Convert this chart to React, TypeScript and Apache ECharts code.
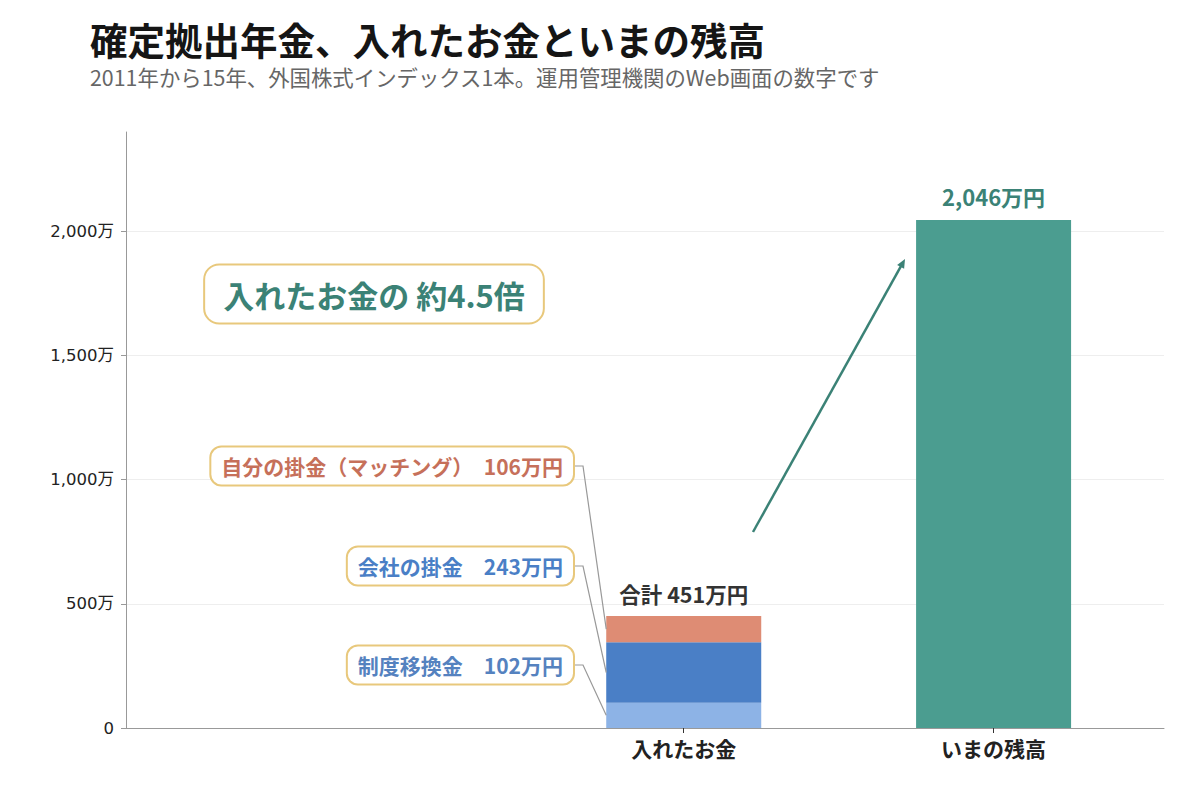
import { useEffect, useRef } from 'react';
import * as echarts from 'echarts';

const categories = ['入れたお金', 'いまの残高'];
const categoryPos = [1, 2];
const transferValues = [102, 0]; // 制度移換金
const companyValues = [243, 0]; // 会社の掛金
const matchingValues = [106, 0]; // 自分の掛金（マッチング）
const balanceValues = [0, 2046]; // いまの残高
const yTicks = [0, 500, 1000, 1500, 2000];

const FONT = '"Noto Sans CJK JP", "Noto Sans", sans-serif';
const TICK_FONT = '"DejaVu Sans", "Noto Sans CJK JP", sans-serif';
const BAR_WIDTH = 155;

export default function App() {
  const chartRef = useRef<HTMLDivElement>(null);

  useEffect(() => {
    if (!chartRef.current) return;
    const chart = echarts.init(chartRef.current, null, { renderer: 'svg' });

    const transfer = transferValues[0];
    const company = companyValues[0];
    const matching = matchingValues[0];
    const total = transfer + company + matching;
    const balance = balanceValues[1];
    const ratio = (balance / total).toFixed(1);

    // value first so that the stack runs on y (x is a value axis here)
    const toPairs = (vals: number[]) => categoryPos.map((x, i) => [vals[i], x]);

    const barBase = {
      type: 'bar' as const,
      stack: 'total',
      barWidth: BAR_WIDTH,
      encode: { x: 1, y: 0 },
    };

    const option: echarts.EChartsOption = {
      animation: false,
      textStyle: { fontFamily: FONT },
      title: [
        {
          text: '確定拠出年金、入れたお金といまの残高',
          left: 90,
          top: 18,
          padding: 0,
          textStyle: { fontSize: 37.5, lineHeight: 40, fontWeight: 'bold', color: '#151515', fontFamily: FONT },
        },
        {
          text: '2011年から15年、外国株式インデックス1本。運用管理機関のWeb画面の数字です',
          left: 90,
          top: 65,
          padding: 0,
          textStyle: { fontSize: 21.4, lineHeight: 22, fontWeight: 'normal', color: '#666', fontFamily: FONT },
        },
      ],
      grid: { left: 126, right: 36, top: 132, bottom: 72 },
      xAxis: {
        type: 'value',
        min: -0.8,
        max: 2.55,
        axisLine: { show: true, onZero: false, lineStyle: { color: '#999' } },
        axisTick: { show: true, customValues: categoryPos, length: 5, lineStyle: { color: '#333' } },
        axisLabel: {
          customValues: categoryPos,
          formatter: (v: number) => categories[categoryPos.indexOf(v)] ?? '',
          fontSize: 21,
          fontWeight: 'bold',
          color: '#222',
          margin: 9,
        },
        splitLine: { show: false },
      },
      yAxis: {
        type: 'value',
        min: 0,
        max: 2400,
        axisLine: { show: true, onZero: false, lineStyle: { color: '#999' } },
        axisTick: { show: true, customValues: yTicks, length: 5, lineStyle: { color: '#999' } },
        axisLabel: {
          customValues: yTicks,
          formatter: (v: number) => (v === 0 ? '0' : v.toLocaleString('en-US') + '万'),
          fontSize: 16.5,
          fontFamily: TICK_FONT,
          color: '#222',
          margin: 12,
        },
        splitLine: {
          show: true,
          lineStyle: { color: ['#eee', '#eee', '#eee', '#eee', '#eee', 'rgba(0,0,0,0)'] },
        },
      },
      series: [
        {
          ...barBase,
          name: '制度移換金',
          data: toPairs(transferValues),
          itemStyle: { color: '#8db3e6' },
        },
        {
          ...barBase,
          name: '会社の掛金',
          data: toPairs(companyValues),
          itemStyle: { color: '#4a7fc6' },
        },
        {
          ...barBase,
          name: '自分の掛金',
          data: toPairs(matchingValues),
          itemStyle: { color: '#de8c74' },
          label: {
            show: true,
            position: 'top',
            distance: 12,
            formatter: (p: any) => (p.dataIndex === 0 ? `合計 ${total}万円` : ''),
            fontSize: 21.5,
            fontWeight: 'bold',
            color: '#333',
          },
        },
        {
          ...barBase,
          name: 'いまの残高',
          data: toPairs(balanceValues),
          itemStyle: { color: '#4b9d90' },
          label: {
            show: true,
            position: 'top',
            distance: 13,
            formatter: (p: any) => (p.value[0] ? `${p.value[0].toLocaleString('en-US')}万円` : ''),
            fontSize: 22,
            fontWeight: 'bold',
            color: '#3b8276',
          },
        },
      ],
    };

    chart.setOption(option);

    // annotations: boxes + leader lines to the stacked segments
    const px = (x: number, y: number) =>
      chart.convertToPixel({ xAxisIndex: 0, yAxisIndex: 0 }, [x, y]) as number[];
    const barLeft = px(categoryPos[0], 0)[0] - BAR_WIDTH / 2;

    const boxStyle = {
      backgroundColor: '#fff',
      borderColor: '#e8c87c',
      borderWidth: 2,
      borderRadius: 10,
      padding: [8, 10, 8, 10],
      align: 'right',
      verticalAlign: 'middle',
    };
    const callouts = [
      { text: `自分の掛金（マッチング）　${matching}万円`, color: '#c6705a', y: 466, mid: transfer + company + matching / 2 },
      { text: `会社の掛金　${company}万円`, color: '#4a7fc6', y: 566, mid: transfer + company / 2 },
      { text: `制度移換金　${transfer}万円`, color: '#5582bf', y: 665, mid: transfer / 2 },
    ];
    const boxRight = 573;

    const graphic: any[] = [];
    callouts.forEach((c) => {
      const target = px(categoryPos[0], c.mid);
      graphic.push({
        type: 'polyline',
        shape: { points: [[boxRight, c.y], [boxRight + 10, c.y], [barLeft, target[1]]] },
        style: { stroke: '#999', lineWidth: 1.2, fill: 'none' },
        z: 10,
      });
      graphic.push({
        type: 'text',
        x: boxRight,
        y: c.y,
        z: 11,
        style: {
          ...boxStyle,
          text: c.text,
          fill: c.color,
          font: `bold 21px ${FONT}`,
        },
      });
    });

    graphic.push({
      type: 'text',
      x: 374,
      y: 294,
      z: 11,
      style: {
        ...boxStyle,
        align: 'center',
        padding: [13, 18, 13, 18],
        borderRadius: 14,
        text: `入れたお金の 約${ratio}倍`,
        fill: '#3b8276',
        font: `bold 31px ${FONT}`,
      },
    });

    // arrow from the stack towards the balance bar
    const a0 = [753, 532];
    const a1 = [905, 259];
    const dx = a1[0] - a0[0];
    const dy = a1[1] - a0[1];
    const len = Math.hypot(dx, dy);
    const ux = dx / len;
    const uy = dy / len;
    const nx = -uy;
    const ny = ux;
    const head = 9;
    const hw = 4;
    graphic.push({
      type: 'line',
      shape: { x1: a0[0], y1: a0[1], x2: a1[0] - ux * head * 0.6, y2: a1[1] - uy * head * 0.6 },
      style: { stroke: '#3b8276', lineWidth: 2.5 },
      z: 10,
    });
    graphic.push({
      type: 'polygon',
      shape: {
        points: [
          a1,
          [a1[0] - ux * head + nx * hw, a1[1] - uy * head + ny * hw],
          [a1[0] - ux * head - nx * hw, a1[1] - uy * head - ny * hw],
        ],
      },
      style: { fill: '#3b8276' },
      z: 10,
    });

    chart.setOption({ graphic });

    return () => {
      chart.dispose();
    };
  }, []);

  return (
    <div
      ref={chartRef}
      style={{ position: 'fixed', left: 0, top: 0, width: 1200, height: 800, background: '#fff' }}
    />
  );
}
